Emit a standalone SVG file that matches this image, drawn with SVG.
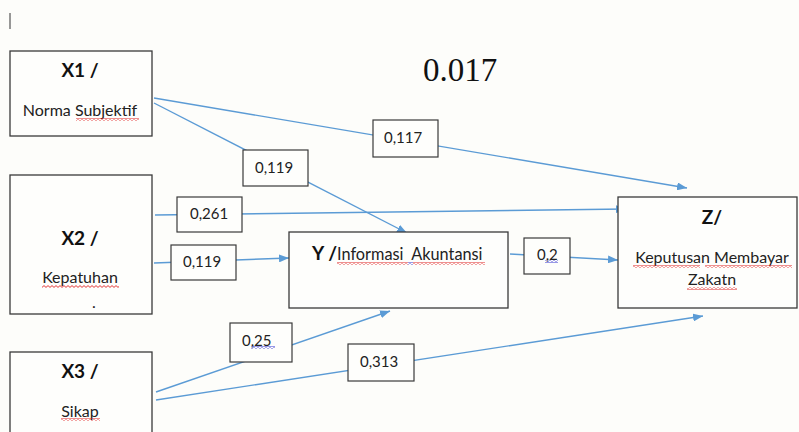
<svg xmlns="http://www.w3.org/2000/svg" width="799" height="432" viewBox="0 0 799 432">
  <style>
    .box { fill: #fefefc; stroke: #3a3a3a; stroke-width: 1.3; }
    .lbl { fill: #fefefc; stroke: #3a3a3a; stroke-width: 1.2; }
    .edge { fill: none; stroke: #5b9bd5; stroke-width: 1.4; marker-end: url(#arrow); }
    .title { font-family: Lato, "Liberation Sans", sans-serif; font-weight: bold; font-size: 19px; fill: #111; text-anchor: middle; }
    .sub { font-family: Lato, "Liberation Sans", sans-serif; font-size: 16px; fill: #222; text-anchor: middle; }
    .num { font-family: Lato, "Liberation Sans", sans-serif; font-size: 15px; fill: #222; }
    .red { fill: url(#wavyRed); }
    .blue { fill: url(#wavyBlue); }
  </style>
  <defs>
    <marker id="arrow" viewBox="0 0 10 8" refX="10" refY="4" markerWidth="10" markerHeight="8" markerUnits="userSpaceOnUse" orient="auto">
      <path d="M0,0 L10,4 L0,8 Z" fill="#5b9bd5"/>
    </marker>
    <pattern id="wavyRed" width="4" height="3" patternUnits="userSpaceOnUse">
      <path d="M0,0.6 L2,2.4 L4,0.6" fill="none" stroke="#e02020" stroke-width="0.9"/>
    </pattern>
    <pattern id="wavyBlue" width="4" height="3" patternUnits="userSpaceOnUse">
      <path d="M0,0.6 L2,2.4 L4,0.6" fill="none" stroke="#3030d0" stroke-width="0.9"/>
    </pattern>
  </defs>

  <rect width="799" height="432" fill="#fdfdfa"/>

  <!-- text cursor mark -->
  <line x1="10" y1="13" x2="10" y2="29" stroke="#333" stroke-width="1"/>

  <text x="460" y="81" font-family="'Liberation Serif', serif" font-size="33" fill="#111" text-anchor="middle">0.017</text>

  <!-- connectors -->
  <g id="connectors">
    <path class="edge" d="M154,98 L687,188"/>
    <path class="edge" d="M154,103 L407,233"/>
    <path class="edge" d="M155,215 L626,209"/>
    <path class="edge" d="M154,263 L289,258"/>
    <path class="edge" d="M510,254 L618,260"/>
    <path class="edge" d="M156,392 L390,311"/>
    <path class="edge" d="M156,400 L703,316"/>

    <!-- coefficient labels -->
    <g id="lbl-x1-z">
      <rect class="lbl" x="373" y="120" width="65" height="37"/>
      <text class="num" x="384" y="143">0,117</text>
    </g>
    <g id="lbl-x1-y">
      <rect class="lbl" x="243" y="150" width="65" height="36"/>
      <text class="num" x="255" y="173">0,119</text>
    </g>
    <g id="lbl-x2-z">
      <rect class="lbl" x="177" y="197" width="65" height="35"/>
      <text class="num" x="190" y="219">0,261</text>
    </g>
    <g id="lbl-x2-y">
      <rect class="lbl" x="171" y="245" width="65" height="35"/>
      <text class="num" x="183" y="267">0,119</text>
    </g>
    <g id="lbl-y-z">
      <rect class="lbl" x="524" y="238" width="46" height="36"/>
      <text class="num" x="537" y="260">0,2</text>
      <rect class="blue" x="545" y="260" width="13" height="3"/>
    </g>
    <g id="lbl-x3-y">
      <rect class="lbl" x="230" y="323" width="62" height="39"/>
      <text class="num" x="242" y="346">0,25</text>
      <rect class="blue" x="251" y="346" width="24" height="3"/>
    </g>
    <g id="lbl-x3-z">
      <rect class="lbl" x="348" y="344" width="66" height="37"/>
      <text class="num" x="360" y="367">0,313</text>
    </g>
  </g>

  <g id="node-x1">
    <rect class="box" x="10" y="51" width="142" height="85"/>
    <text class="title" x="80" y="77">X1 /</text>
    <text class="sub" x="80" y="116">Norma Subjektif</text>
    <rect class="red" x="76" y="118" width="63" height="3"/>
  </g>

  <g id="node-x2">
    <rect class="box" x="10" y="175" width="142" height="139"/>
    <text class="title" x="80" y="245">X2 /</text>
    <text class="sub" x="80" y="283">Kepatuhan</text>
    <rect class="red" x="42" y="285" width="77" height="3"/>
    <text class="sub" x="94" y="308" font-size="9">.</text>
  </g>

  <g id="node-x3">
    <rect class="box" x="10" y="352" width="142" height="90"/>
    <text class="title" x="80" y="378">X3 /</text>
    <text class="sub" x="80" y="417">Sikap</text>
    <rect class="red" x="61" y="418" width="39" height="3"/>
  </g>

  <g id="node-y">
    <rect class="box" x="289" y="232" width="219" height="76"/>
    <text x="312" y="260" font-family="Lato, 'Liberation Sans', sans-serif" fill="#111" xml:space="preserve"><tspan font-weight="bold" font-size="19">Y /</tspan><tspan font-size="16.3" fill="#222">Informasi  Akuntansi</tspan></text>
    <rect class="red" x="337" y="262" width="71" height="3"/>
    <rect class="blue" x="408" y="262" width="5" height="3"/>
    <rect class="red" x="413" y="262" width="72" height="3"/>
  </g>

  <g id="node-z">
    <rect class="box" x="618" y="197" width="179" height="111"/>
    <text class="title" x="712" y="224">Z/</text>
    <text class="sub" x="712" y="263" font-size="17">Keputusan Membayar</text>
    <rect class="red" x="633" y="265" width="67" height="3"/>
    <rect class="red" x="705" y="265" width="87" height="3"/>
    <text class="sub" x="712" y="285" font-size="17">Zakatn</text>
    <rect class="red" x="687" y="287" width="50" height="3"/>
  </g>
</svg>
